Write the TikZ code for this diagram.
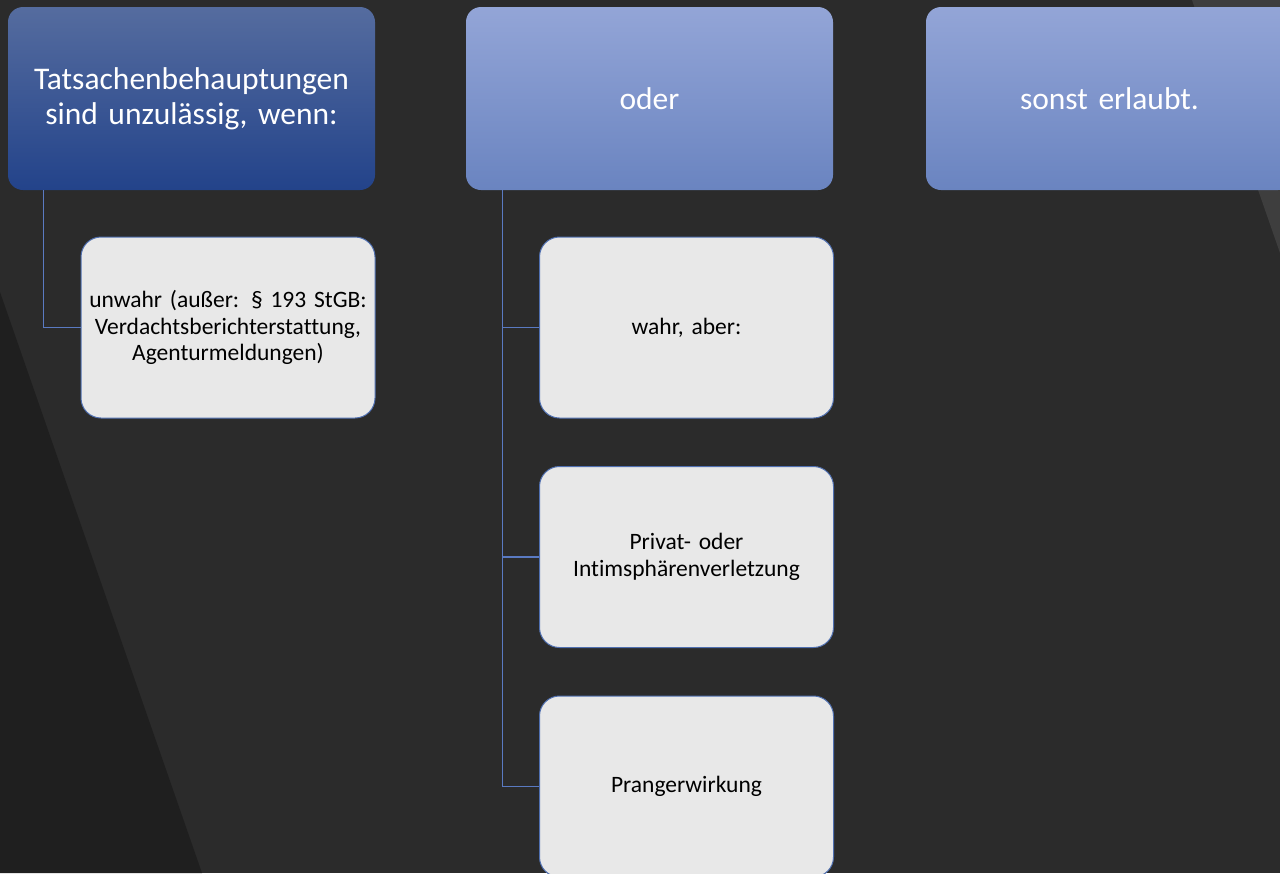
\documentclass[tikz,border=0pt]{standalone}
\usepackage{fontspec}
\setmainfont{Carlito}[Ligatures=NoCommon, WordSpace=0.85]
\definecolor{bgmain}{HTML}{2B2B2B}
\definecolor{bgdark}{HTML}{1F1F1F}
\definecolor{bglight}{HTML}{3E3E3E}
\definecolor{dtop}{HTML}{556C9F}
\definecolor{dmid}{HTML}{2A4A8E}
\definecolor{dbot}{HTML}{23438A}
\definecolor{ltop}{HTML}{93A5D7}
\definecolor{lbot}{HTML}{6A84C0}
\definecolor{childfill}{HTML}{E8E8E8}
\definecolor{childline}{HTML}{4F6FB0}
\definecolor{conn}{HTML}{5A7AC2}
\begin{document}
\begin{tikzpicture}[x=1pt,y=-1pt,
  topbox/.style={rounded corners=15pt, minimum width=367pt, minimum height=183pt,
    inner sep=0pt, text width=350pt, align=center, text=white, font=\fontsize{31.5}{35}\selectfont},
  darkbox/.style={topbox, top color=dtop, middle color=dmid, bottom color=dbot},
  lightbox/.style={topbox, top color=ltop, bottom color=lbot},
  childbox/.style={rounded corners=20pt, minimum width=294pt, minimum height=181pt,
    inner sep=0pt, text width=288pt, align=center, fill=childfill, draw=childline, line width=1pt,
    text=black, font=\fontsize{23.5}{26.5}\selectfont},
  connector/.style={draw=conn, line width=1.1pt}]
\useasboundingbox (0,0) rectangle (1280,873);
\clip (0,0) rectangle (1280,873);
\fill[bgmain] (0,0) rectangle (1280,873);
\fill[bgdark] (0,292) -- (202,873) -- (0,873) -- cycle;
\fill[bglight] (1192,0) -- (1280,253) -- (1280,0) -- cycle;

\node[darkbox] (b1) at (191.5,98.5) {Tatsachenbehauptungen\\sind unzulässig, wenn:};
\node[lightbox] (b2) at (649.5,98.5) {oder};
\node[lightbox] (b3) at (1109.5,98.5) {sonst erlaubt.};

\node[childbox] (ca) at (228,327.5) {unwahr (außer: § 193 StGB:\\Verdachtsberichterstattung,\\Agenturmeldungen)};
\node[childbox] (cb) at (686.5,327.5) {wahr, aber:};
\node[childbox] (cc) at (686.5,557) {Privat- oder\\Intimsphärenverletzung};
\node[childbox] (cd) at (686.5,786.5) {Prangerwirkung};

\draw[connector] ([xshift=36pt]b1.south west) |- (ca.west);
\draw[connector] ([xshift=37pt]b2.south west) |- (cb.west);
\draw[connector] ([xshift=37pt]b2.south west) |- (cc.west);
\draw[connector] ([xshift=37pt]b2.south west) |- (cd.west);
\end{tikzpicture}
\end{document}
